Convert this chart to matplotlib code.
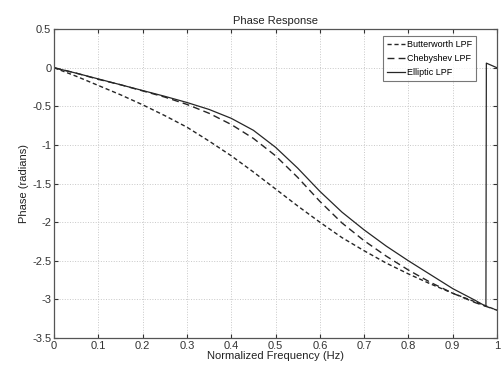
import matplotlib
matplotlib.use("Agg")
import matplotlib.pyplot as plt

plt.rcParams['font.family'] = ['Liberation Sans', 'DejaVu Sans']

# Normalized frequency grid (Nyquist = 1)
freq = [0.0, 0.05, 0.10, 0.15, 0.20, 0.25, 0.30, 0.35, 0.40, 0.45, 0.50,
        0.55, 0.60, 0.65, 0.70, 0.75, 0.80, 0.85, 0.90, 0.95, 1.00]

# Phase (radians) of each low-pass design
butter_phase = [0.0, -0.11, -0.23, -0.35, -0.48, -0.62, -0.77, -0.95, -1.14, -1.35, -1.57,
                -1.79, -2.00, -2.20, -2.37, -2.53, -2.67, -2.80, -2.92, -3.03, -3.14]
cheby_phase = [0.0, -0.07, -0.15, -0.22, -0.30, -0.38, -0.475, -0.59, -0.735, -0.915, -1.14,
               -1.42, -1.73, -2.01, -2.24, -2.44, -2.62, -2.78, -2.92, -3.04, -3.14]

# Elliptic: zero on the unit circle near f = 0.976 gives a +pi phase jump
ellip_freq = [0.0, 0.05, 0.10, 0.15, 0.20, 0.25, 0.30, 0.35, 0.40, 0.45, 0.50,
              0.55, 0.60, 0.65, 0.70, 0.75, 0.80, 0.85, 0.90, 0.95, 0.975, 0.976, 1.00]
ellip_phase = [0.0, -0.07, -0.145, -0.22, -0.295, -0.37, -0.45, -0.54, -0.655, -0.81, -1.03,
               -1.30, -1.60, -1.87, -2.10, -2.31, -2.50, -2.68, -2.86, -3.01, -3.09, 0.06, 0.00]

x_ticks = [0, 0.1, 0.2, 0.3, 0.4, 0.5, 0.6, 0.7, 0.8, 0.9, 1]
x_labels = ['0', '0.1', '0.2', '0.3', '0.4', '0.5', '0.6', '0.7', '0.8', '0.9', '1']
y_ticks = [0.5, 0, -0.5, -1, -1.5, -2, -2.5, -3, -3.5]
y_labels = ['0.5', '0', '-0.5', '-1', '-1.5', '-2', '-2.5', '-3', '-3.5']

fig = plt.figure(figsize=(5.01, 3.69), dpi=100)
ax = fig.add_axes([0.108, 0.084, 0.884, 0.837])

line_color = '#262626'
ax.plot(freq, butter_phase, color=line_color, lw=1.0, dashes=(3, 2), label='Butterworth LPF')
ax.plot(freq, cheby_phase, color=line_color, lw=1.0, dashes=(5, 3), label='Chebyshev LPF')
ax.plot(ellip_freq, ellip_phase, color=line_color, lw=0.9, label='Elliptic LPF')

ax.set_xlim(0, 1)
ax.set_ylim(-3.5, 0.5)
ax.set_xticks(x_ticks)
ax.set_xticklabels(x_labels)
ax.set_yticks(y_ticks)
ax.set_yticklabels(y_labels)
ax.tick_params(direction='in', top=True, right=True, labelsize=8, length=3,
               pad=2, colors='#333333')
ax.grid(True, linestyle=':', color='#c8c8c8', linewidth=0.7)
for sp in ax.spines.values():
    sp.set_color('#555555')
    sp.set_linewidth(0.9)

ax.set_title('Phase Response', fontsize=8, color='#222222', pad=4)
ax.set_xlabel('Normalized Frequency (Hz)', fontsize=8, color='#222222', labelpad=0)
ax.set_ylabel('Phase (radians)', fontsize=8, color='#222222', labelpad=2)

leg = ax.legend(loc='upper left', bbox_to_anchor=(0.742, 0.978), fontsize=6.5,
                frameon=True, fancybox=False, handlelength=2.0, handletextpad=0.25,
                borderpad=0.45, labelspacing=0.55, borderaxespad=0.0)
leg.get_frame().set_edgecolor('#555555')
leg.get_frame().set_linewidth(0.8)

fig.savefig('out.png', dpi=100)
